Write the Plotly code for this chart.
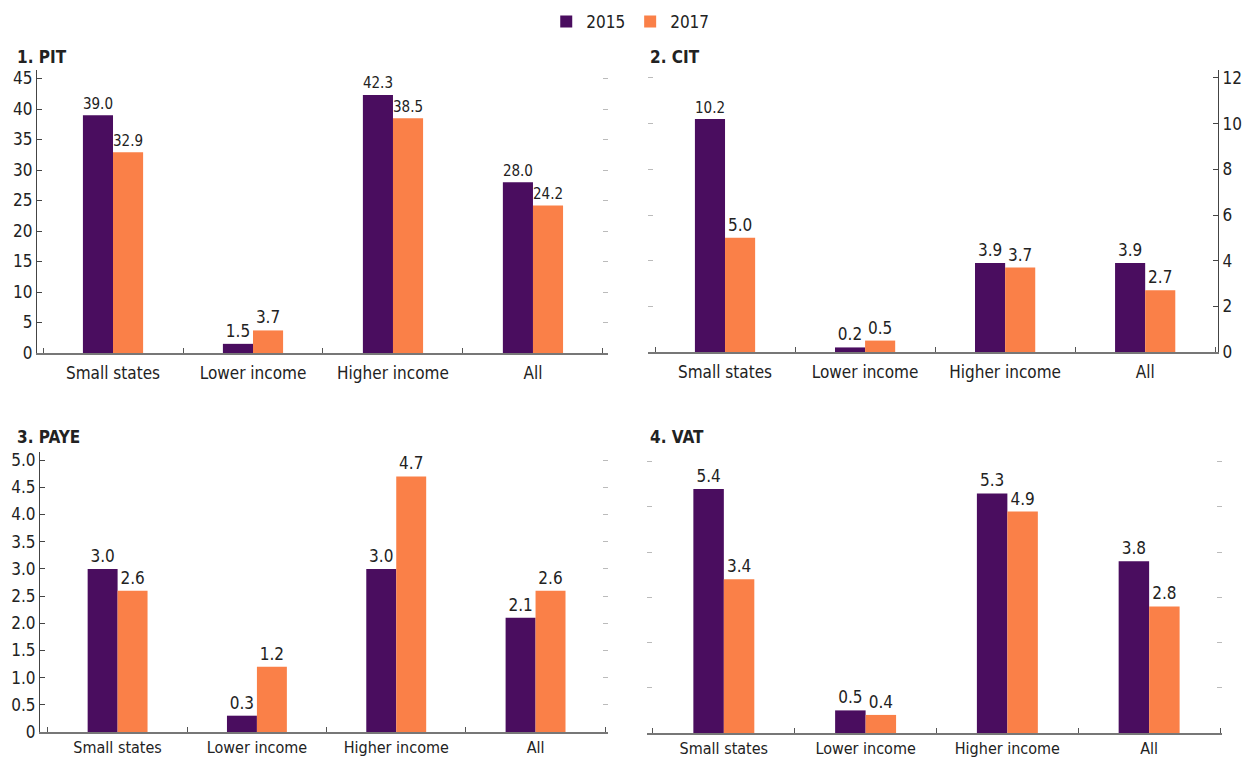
import plotly.graph_objects as go

# Revenue share by country group, 2015 vs 2017
categories = ["Small states", "Lower income", "Higher income", "All"]
years = ["2015", "2017"]

pit_2015 = [39.0, 1.5, 42.3, 28.0]
pit_2017 = [32.9, 3.7, 38.5, 24.2]
cit_2015 = [10.2, 0.2, 3.9, 3.9]
cit_2017 = [5.0, 0.5, 3.7, 2.7]
paye_2015 = [3.0, 0.3, 3.0, 2.1]
paye_2017 = [2.6, 1.2, 4.7, 2.6]
vat_2015 = [5.4, 0.5, 5.3, 3.8]
vat_2017 = [3.4, 0.4, 4.9, 2.8]

panel_titles = ["1. PIT", "2. CIT", "3. PAYE", "4. VAT"]

# y tick labels for each panel
pit_ticks = [0, 5, 10, 15, 20, 25, 30, 35, 40, 45]
cit_ticks = [0, 2, 4, 6, 8, 10, 12]
paye_ticks = [0, 0.5, 1.0, 1.5, 2.0, 2.5, 3.0, 3.5, 4.0, 4.5, 5.0]
paye_ticktext = ["0", "0.5", "1.0", "1.5", "2.0", "2.5", "3.0", "3.5", "4.0", "4.5", "5.0"]
vat_ticks = [0, 1, 2, 3, 4, 5, 6]

PURPLE = "#4A0D5F"
ORANGE = "#FA8048"
FONT = "Liberation Sans Narrow, DejaVu Sans Condensed, Arial Narrow, sans-serif"
W, H = 1248, 759


def px_x(p):
    return p / W


def px_y(p):
    return 1 - p / H


panels = [
    dict(data=(pit_2015, pit_2017), xa="x", ya="y",
         xdom=(37, 608), ydom=(353, 70), yrange=[0, 46.4],
         ticks=pit_ticks, ticktext=[str(t) for t in pit_ticks],
         xrange=[-0.543, 3.536], side="left", labels=True, bottom=False),
    dict(data=(cit_2015, cit_2017), xa="x2", ya="y2",
         xdom=(648, 1218), ydom=(352, 70), yrange=[0, 12.35],
         ticks=cit_ticks, ticktext=[str(t) for t in cit_ticks],
         xrange=[-0.55, 3.52], side="right", labels=True, bottom=False),
    dict(data=(paye_2015, paye_2017), xa="x3", ya="y3",
         xdom=(40, 608), ydom=(732, 452), yrange=[0, 5.15],
         ticks=paye_ticks, ticktext=paye_ticktext,
         xrange=[-0.557, 3.52], side="left", labels=True, bottom=True),
    dict(data=(vat_2015, vat_2017), xa="x4", ya="y4",
         xdom=(647, 1222), ydom=(733, 455), yrange=[0, 6.15],
         ticks=vat_ticks, ticktext=[str(t) for t in vat_ticks],
         xrange=[-0.542, 3.514], side="left", labels=False, bottom=True),
]

fig = go.Figure()

for i, p in enumerate(panels):
    for year, vals, color in zip(years, p["data"], [PURPLE, ORANGE]):
        fig.add_trace(go.Bar(
            x=categories, y=vals, name=year,
            marker=dict(color=color, line=dict(width=0)),
            xaxis=p["xa"], yaxis=p["ya"],
            text=[f"{v:.1f}" for v in vals],
            textposition="outside",
            textfont=dict(family=FONT, size=17, color="#222"),
            cliponaxis=False,
            showlegend=(i == 0),
            legendgroup=year,
        ))

layout = dict(
    width=W, height=H,
    margin=dict(l=0, r=0, t=0, b=0, autoexpand=False),
    paper_bgcolor="white", plot_bgcolor="white",
    barmode="group", bargap=0.57, bargroupgap=0,
    font=dict(family=FONT, size=16, color="#222"),
    legend=dict(orientation="h", x=0.505, y=px_y(22), xanchor="center",
                yanchor="middle", font=dict(family=FONT, size=17, color="#222"),
                itemwidth=30, traceorder="normal"),
    annotations=[],
)

overlay_id = 5
for i, p in enumerate(panels):
    xkey = "xaxis" + ("" if i == 0 else str(i + 1))
    ykey = "yaxis" + ("" if i == 0 else str(i + 1))
    layout[xkey] = dict(
        type="category", domain=[px_x(p["xdom"][0]), px_x(p["xdom"][1])],
        anchor=p["ya"], range=p["xrange"],
        tickson="boundaries", ticks="inside", ticklen=5, tickcolor="#555",
        showline=True, linecolor="#777", linewidth=1.5,
        showgrid=False, zeroline=False,
        ticklabelstandoff=0 if p["bottom"] else 4,
        tickfont=dict(family=FONT, size=16 if p["bottom"] else 17, color="#222"),
    )
    main_line = p["labels"]
    layout[ykey] = dict(
        domain=[px_y(p["ydom"][0]), px_y(p["ydom"][1])],
        anchor=p["xa"], range=p["yrange"],
        tickmode="array", tickvals=p["ticks"], ticktext=p["ticktext"],
        side=p["side"], showline=main_line, linecolor="#444", linewidth=1.2,
        ticks="inside", ticklen=5,
        tickcolor="#444" if main_line else "#bbb",
        showticklabels=p["labels"],
        showgrid=False, zeroline=False,
        tickfont=dict(family=FONT, size=17, color="#222"),
    )
    # faint mirrored tick marks on the opposite side
    other_side = "right" if p["side"] == "left" else "left"
    layout["yaxis%d" % overlay_id] = dict(
        overlaying=p["ya"], anchor=p["xa"], side=other_side,
        range=p["yrange"], tickmode="array", tickvals=p["ticks"],
        ticks="inside", ticklen=5, tickcolor="#bbb",
        showticklabels=False, showline=False, showgrid=False, zeroline=False,
    )
    fig.add_trace(go.Scatter(x=categories, y=[None] * 4, xaxis=p["xa"],
                             yaxis="y%d" % overlay_id, showlegend=False,
                             hoverinfo="skip", mode="markers"))
    overlay_id += 1

title_pos = [(15, 57), (648, 57), (15, 437), (648, 437)]
for t, (tx, ty) in zip(panel_titles, title_pos):
    layout["annotations"].append(dict(
        text="<b>%s</b>" % t, x=px_x(tx), y=px_y(ty), xref="paper", yref="paper",
        xanchor="left", yanchor="middle", showarrow=False,
        font=dict(family=FONT, size=17, color="#222"),
    ))

fig.update_layout(**layout)
fig.write_html("out.html")
